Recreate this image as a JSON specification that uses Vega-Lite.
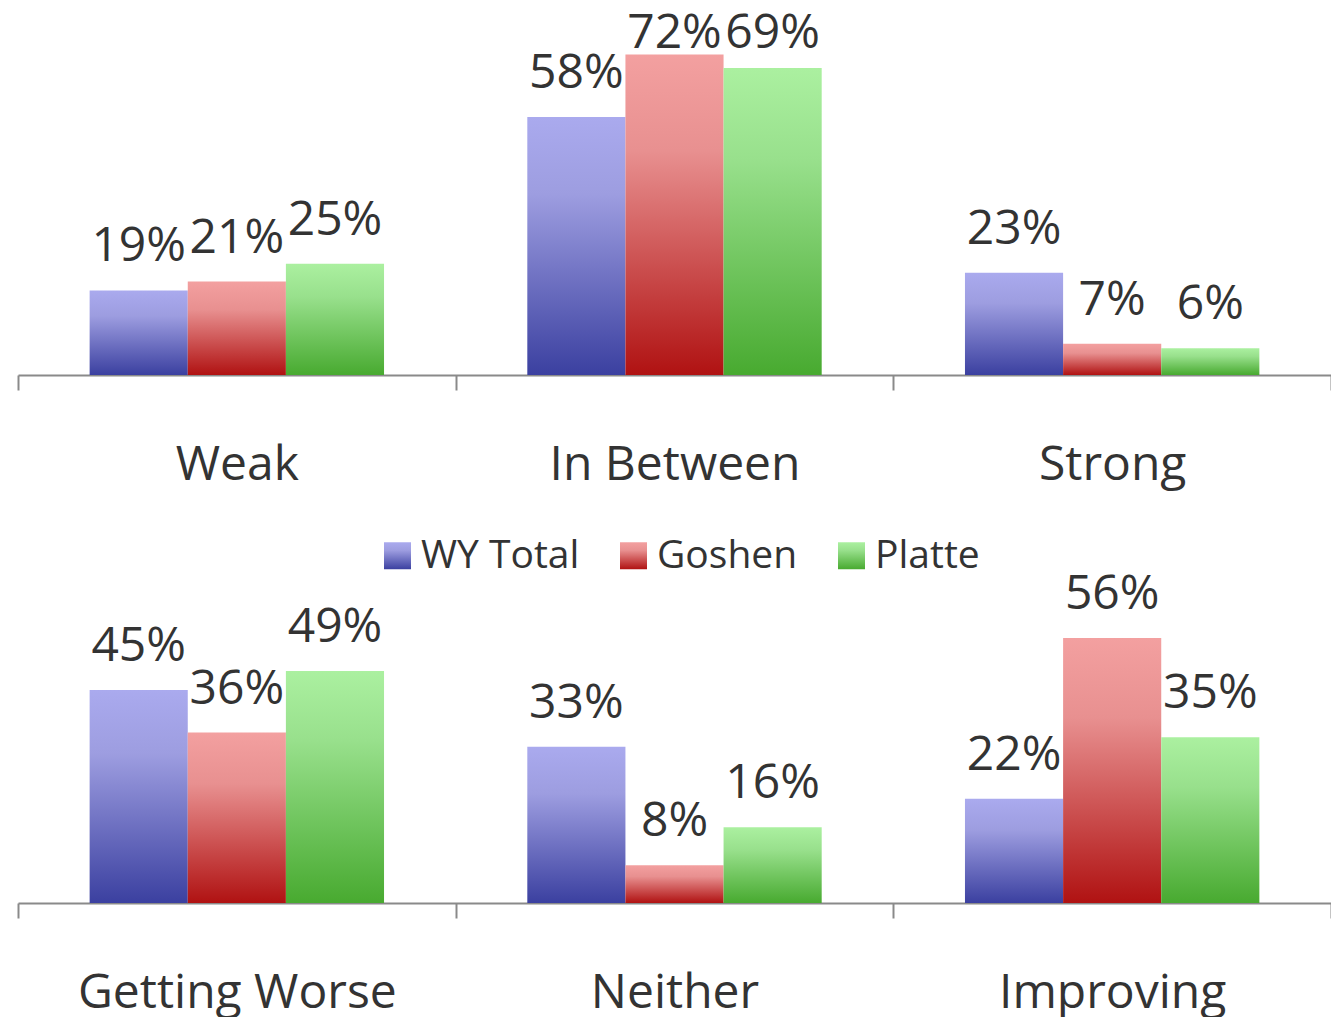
{
  "$schema": "https://vega.github.io/schema/vega-lite/v6.json",
  "padding": {"top": 9, "left": 17, "right": 0, "bottom": 0},
  "background": "white",
  "bounds": "flush",
  "spacing": 244,
  "config": {
    "view": {"stroke": null},
    "font": "Open Sans",
    "axisX": {
      "title": null,
      "labelAngle": 0,
      "labelFont": "Open Sans",
      "labelFontSize": 48,
      "labelColor": "#333333",
      "labelPadding": 51,
      "labelLimit": 600,
      "tickBand": "extent",
      "tickSize": 15,
      "tickColor": "#8a8a8a",
      "tickWidth": 2,
      "domainColor": "#8a8a8a",
      "domainWidth": 2,
      "grid": false
    }
  },
  "datasets": {
    "top": [
      {"category": "Weak", "series": "WY Total", "value": 0.19},
      {"category": "Weak", "series": "Goshen", "value": 0.21},
      {"category": "Weak", "series": "Platte", "value": 0.25},
      {"category": "In Between", "series": "WY Total", "value": 0.58},
      {"category": "In Between", "series": "Goshen", "value": 0.72},
      {"category": "In Between", "series": "Platte", "value": 0.69},
      {"category": "Strong", "series": "WY Total", "value": 0.23},
      {"category": "Strong", "series": "Goshen", "value": 0.07},
      {"category": "Strong", "series": "Platte", "value": 0.06}
    ],
    "bottom": [
      {"category": "Getting Worse", "series": "WY Total", "value": 0.45},
      {"category": "Getting Worse", "series": "Goshen", "value": 0.36},
      {"category": "Getting Worse", "series": "Platte", "value": 0.49},
      {"category": "Neither", "series": "WY Total", "value": 0.33},
      {"category": "Neither", "series": "Goshen", "value": 0.08},
      {"category": "Neither", "series": "Platte", "value": 0.16},
      {"category": "Improving", "series": "WY Total", "value": 0.22},
      {"category": "Improving", "series": "Goshen", "value": 0.56},
      {"category": "Improving", "series": "Platte", "value": 0.35}
    ]
  },
  "resolve": {
    "scale": {"x": "independent", "y": "independent", "xOffset": "independent"},
    "legend": {"color": "independent"}
  },
  "vconcat": [
    {
      "data": {"name": "top"},
      "width": 1313,
      "height": 356,
      "encoding": {
        "x": {"field": "category", "type": "nominal", "sort": ["Weak", "In Between", "Strong"], "scale": {"paddingInner": 0, "paddingOuter": 0}},
        "xOffset": {"field": "series", "type": "nominal", "sort": ["WY Total", "Goshen", "Platte"], "scale": {"paddingInner": 0, "paddingOuter": 0.73}}
      },
      "layer": [
        {
          "mark": {"type": "bar"},
          "encoding": {
            "y": {"field": "value", "type": "quantitative", "scale": {"domain": [0, 0.8]}, "axis": null},
            "color": {
              "field": "series", "type": "nominal", "legend": null,
              "scale": {
                "domain": ["WY Total", "Goshen", "Platte"],
                "range": [
                  {"expr": "{gradient: 'linear', x1: 0, y1: 0, x2: 0, y2: 1, stops: [{offset: 0, color: '#aaaaee'}, {offset: 0.3, color: '#9d9de0'}, {offset: 1, color: '#3b40a0'}]}"},
                  {"expr": "{gradient: 'linear', x1: 0, y1: 0, x2: 0, y2: 1, stops: [{offset: 0, color: '#f3a0a0'}, {offset: 0.3, color: '#e89090'}, {offset: 1, color: '#b01212'}]}"},
                  {"expr": "{gradient: 'linear', x1: 0, y1: 0, x2: 0, y2: 1, stops: [{offset: 0, color: '#abf0a0'}, {offset: 0.3, color: '#98e08c'}, {offset: 1, color: '#48aa30'}]}"}
                ]
              }
            }
          }
        },
        {
          "mark": {"type": "text", "baseline": "alphabetic", "dy": -29, "fontSize": 48, "color": "#333333", "font": "Open Sans"},
          "encoding": {
            "y": {"field": "value", "type": "quantitative", "scale": {"domain": [0, 0.67], "clamp": true, "range": [356, 57.85]}, "axis": null},
            "text": {"field": "value", "type": "quantitative", "format": ".0%"}
          }
        }
      ],
      "resolve": {"scale": {"y": "independent"}}
    },
    {
      "data": {"name": "bottom"},
      "width": 1313,
      "height": 284,
      "encoding": {
        "x": {"field": "category", "type": "nominal", "sort": ["Getting Worse", "Neither", "Improving"], "scale": {"paddingInner": 0, "paddingOuter": 0}},
        "xOffset": {"field": "series", "type": "nominal", "sort": ["WY Total", "Goshen", "Platte"], "scale": {"paddingInner": 0, "paddingOuter": 0.73}},
        "y": {"field": "value", "type": "quantitative", "scale": {"domain": [0, 0.6]}, "axis": null}
      },
      "layer": [
        {
          "mark": {"type": "bar"},
          "encoding": {
            "color": {
              "field": "series", "type": "nominal",
              "legend": {
                "orient": "none", "legendX": 360, "legendY": -83, "direction": "horizontal",
                "title": null, "symbolType": "square", "symbolSize": 729, "symbolStrokeWidth": 0,
                "labelFont": "Open Sans", "labelFontSize": 39, "labelColor": "#333333", "labelLimit": 400,
                "labelOffset": 4, "columnPadding": 34, "padding": 0
              }
            }
          }
        },
        {
          "mark": {"type": "text", "baseline": "alphabetic", "dy": -29, "fontSize": 48, "color": "#333333", "font": "Open Sans"},
          "encoding": {
            "text": {"field": "value", "type": "quantitative", "format": ".0%"}
          }
        }
      ]
    }
  ]
}
